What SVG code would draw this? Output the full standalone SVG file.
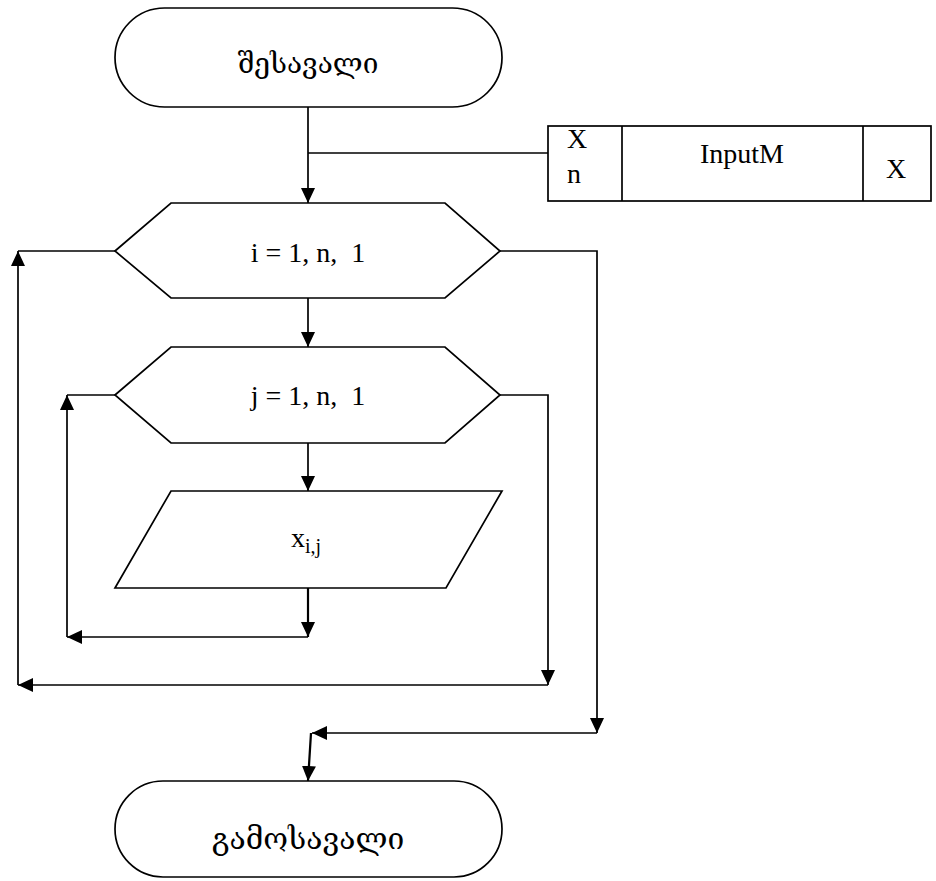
<svg xmlns="http://www.w3.org/2000/svg" width="936" height="881" viewBox="0 0 936 881">
  <style>
    .shape { fill: #fff; stroke: #000; stroke-width: 1.7; }
    .line { fill: none; stroke: #000; stroke-width: 1.7; }
    .thick { stroke-width: 2.2; }
    .lbl { font-family: "Liberation Serif", "Times New Roman", serif; fill: #000; white-space: pre; }
    .geo { font-family: "DejaVu Serif", "DejaVu Sans", serif; fill: #000; }
  </style>
  <defs>
    <marker id="arrow" markerUnits="userSpaceOnUse" markerWidth="16" markerHeight="14" refX="15" refY="7" orient="auto">
      <path d="M0,0 L15,7 L0,14 Z" fill="#000"/>
    </marker>
  </defs>

  <!-- start terminal -->
  <g id="start">
    <rect class="shape" x="115" y="8" width="387" height="99" rx="49.5" ry="49.5"/>
    <text class="geo" x="308" y="73" font-size="28" text-anchor="middle">შესავალი</text>
  </g>

  <!-- subroutine header box -->
  <g id="inputm">
    <rect class="shape" x="548" y="126" width="383" height="75"/>
    <line class="line" x1="622" y1="126" x2="622" y2="201"/>
    <line class="line" x1="863" y1="126" x2="863" y2="201"/>
    <text class="lbl" x="567" y="148" font-size="28">X</text>
    <text class="lbl" x="567" y="183" font-size="28">n</text>
    <text class="lbl" x="742" y="163" font-size="28" text-anchor="middle">InputM</text>
    <text class="lbl" x="896" y="178" font-size="28" text-anchor="middle">X</text>
  </g>

  <!-- outer loop header -->
  <g id="loop-i">
    <polygon class="shape" points="115,251 171,203 445,203 500,251 445,298 171,298"/>
    <text class="lbl" x="308" y="262" font-size="28" text-anchor="middle" xml:space="preserve">i = 1, n,  1</text>
  </g>

  <!-- inner loop header -->
  <g id="loop-j">
    <polygon class="shape" points="115,395 171,347 445,347 500,395 445,443 171,443"/>
    <text class="lbl" x="308" y="405" font-size="28" text-anchor="middle" xml:space="preserve">j = 1, n,  1</text>
  </g>

  <!-- input element -->
  <g id="read-x">
    <polygon class="shape" points="171,491 502,491 446,588 115,588"/>
    <text class="lbl" x="291" y="547" font-size="28">x<tspan font-size="20" dy="6">i,j</tspan></text>
  </g>

  <!-- exit terminal -->
  <g id="end">
    <rect class="shape" x="115" y="781" width="387" height="96" rx="48" ry="48"/>
    <text class="geo" x="308" y="849" font-size="30" text-anchor="middle">გამოსავალი</text>
  </g>

  <g id="connectors">
    <!-- start to outer loop, with branch to header box -->
    <line class="line" x1="308" y1="107" x2="308" y2="203" marker-end="url(#arrow)"/>
    <line class="line" x1="308" y1="153" x2="548" y2="153"/>
    <!-- outer loop to inner loop -->
    <line class="line" x1="308" y1="298" x2="308" y2="347" marker-end="url(#arrow)"/>
    <!-- inner loop to input -->
    <line class="line" x1="308" y1="443" x2="308" y2="491" marker-end="url(#arrow)"/>
    <!-- inner loop body return -->
    <line class="line thick" x1="308" y1="588" x2="308" y2="637" marker-end="url(#arrow)"/>
    <line class="line" x1="308" y1="637" x2="67" y2="637" marker-end="url(#arrow)"/>
    <polyline class="line" points="67,637 67,395" marker-end="url(#arrow)"/>
    <line class="line" x1="67" y1="395" x2="115" y2="395"/>
    <!-- inner loop exit back to outer loop -->
    <polyline class="line" points="500,395 548,395 548,685" marker-end="url(#arrow)"/>
    <line class="line" x1="548" y1="685" x2="18" y2="685" marker-end="url(#arrow)"/>
    <polyline class="line" points="18,685 18,251" marker-end="url(#arrow)"/>
    <line class="line" x1="18" y1="251" x2="115" y2="251"/>
    <!-- outer loop exit to end -->
    <polyline class="line" points="500,251 597,251 597,733" marker-end="url(#arrow)"/>
    <line class="line" x1="597" y1="733" x2="312" y2="733" marker-end="url(#arrow)"/>
    <line class="line thick" x1="311" y1="733" x2="308" y2="781" marker-end="url(#arrow)"/>
  </g>
</svg>
